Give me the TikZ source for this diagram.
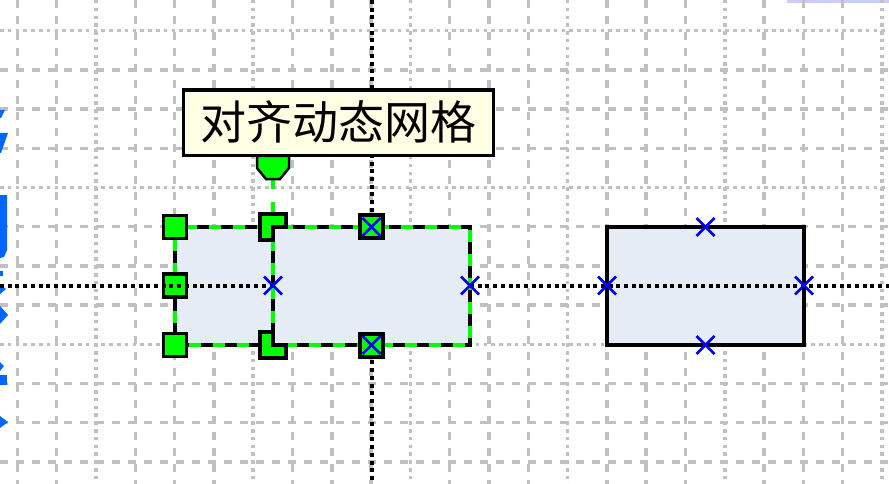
\documentclass[tikz,border=0pt]{standalone}
\usepackage{fontspec}
\newfontfamily\cjk{Noto Sans CJK SC}
\definecolor{gridgray}{RGB}{192,192,192}
\definecolor{boxfill}{RGB}{230,236,246}
\definecolor{tipfill}{RGB}{255,255,228}
\definecolor{handlegreen}{RGB}{0,255,0}
\definecolor{cpblue}{RGB}{0,0,255}
\definecolor{titleblue}{RGB}{0,102,255}
\definecolor{barlilac}{RGB}{204,204,255}
\tikzset{
	griddash/.style={gridgray, line width=3.5pt, dash pattern=on 8pt off 8pt},
	griddot/.style={gridgray, line width=3.5pt, dash pattern=on 3.5pt off 4.3pt},
	guide/.style={black, line width=4pt, dash pattern=on 4pt off 3.7pt},
	selline/.style={handlegreen, line width=4pt, postaction={draw=black, line width=4pt, dash pattern=on 12pt off 12pt}},
	handle/.style={fill=handlegreen, draw=black, line width=3.5pt},
	stem/.style={handlegreen, line width=4pt, dash pattern=on 10pt off 13pt},
	cpmark/.style={cpblue, line width=2.5pt},
	tipbox/.style={draw, line width=3.5pt, fill=tipfill, inner sep=0pt, minimum width=309.7pt, minimum height=65.5pt, font=\cjk\fontsize{46}{46}\selectfont}
}
\begin{document}
\begin{tikzpicture}[x=1pt, y=-1pt]
	\useasboundingbox (0,0) rectangle (889,484);
	\fill[barlilac] (787,0) rectangle (889,3);
	\foreach \k in {0,...,22} {
		\pgfmathtruncatemacro\m{mod(\k,4)}
		\ifnum\m=2 \draw[griddot] (17.4+39.3*\k,0) -- (17.4+39.3*\k,484);
		\else \draw[griddash] (17.4+39.3*\k,0) -- (17.4+39.3*\k,484); \fi
	}
	\foreach \k in {1,...,12} {
		\pgfmathtruncatemacro\m{mod(\k,4)}
		\ifnum\m=1 \draw[griddot] (0,-8.5+39.2*\k) -- (889,-8.5+39.2*\k);
		\else \draw[griddash] (0,-8.5+39.2*\k) -- (889,-8.5+39.2*\k); \fi
	}
	\fill[titleblue] (0,110) -- (5,110) -- (1,118) -- (0,118) -- cycle;
	\fill[titleblue] (0,133) -- (8,133) -- (1,153) -- (0,153) -- cycle;
	\fill[titleblue] (0,195) -- (7,195) -- (7,250) -- (4,257) -- (0,258) -- cycle;
	\fill[titleblue] (0,271) rectangle (3,276);
	\fill[titleblue] (0,284) -- (6,289) -- (0,294) -- cycle;
	\fill[titleblue] (0,306) -- (8,315) -- (0,324) -- cycle;
	\fill[titleblue] (0,362) -- (4,366) -- (0,371) -- cycle;
	\fill[titleblue] (0,375) rectangle (7,385);
	\fill[titleblue] (0,416) -- (8,422) -- (0,428) -- cycle;
	\filldraw[fill=boxfill, line width=4pt] (607,227) rectangle (804,345);
	\fill[boxfill] (175,227) rectangle (470,345);
	\draw[selline] (175,227) rectangle (470,345);
	\draw[selline] (273,227) -- (273,345);
	\foreach \hy in {227,285.5,345}
		\filldraw[handle] (163.5,\hy-11.5) rectangle ++(23,23);
	\draw[guide] (0,285.5) -- (273,285.5) (470,285.5) -- (889,285.5);
	\draw[guide] (371.5,0) -- (371.5,227) (371.5,345) -- (371.5,484);
	\coordinate (rot) at (273,179);
	\coordinate (top) at (273,214);
	\draw[stem] (rot) -- (top);
	\filldraw[handle] (260,214) -- (286,214) -- (286,227) -- (273,227) -- (273,240) -- (260,240) -- cycle;
	\filldraw[handle] (260,332) -- (273,332) -- (273,345) -- (286,345) -- (286,358) -- (260,358) -- cycle;
	\filldraw[handle] (360,215) rectangle ++(23,23);
	\filldraw[handle] (360,334) rectangle ++(23,23);
	\foreach \px/\py in {273/285.5, 470/285.5, 607/285.5, 804/285.5, 705.5/227, 705.5/345, 371.5/227, 371.5/345}
		\draw[cpmark] (\px-9,\py-9) -- (\px+9,\py+9) (\px-9,\py+9) -- (\px+9,\py-9);
	\filldraw[handle, line width=2.5pt] (257,156) -- (289,156) -- (289,168) -- (280,179) -- (266,179) -- (257,168) -- cycle;
	\node[tipbox] (tip) at (338.4,122.8) {\raisebox{5pt}{对齐动态网格}};
\end{tikzpicture}
\end{document}
